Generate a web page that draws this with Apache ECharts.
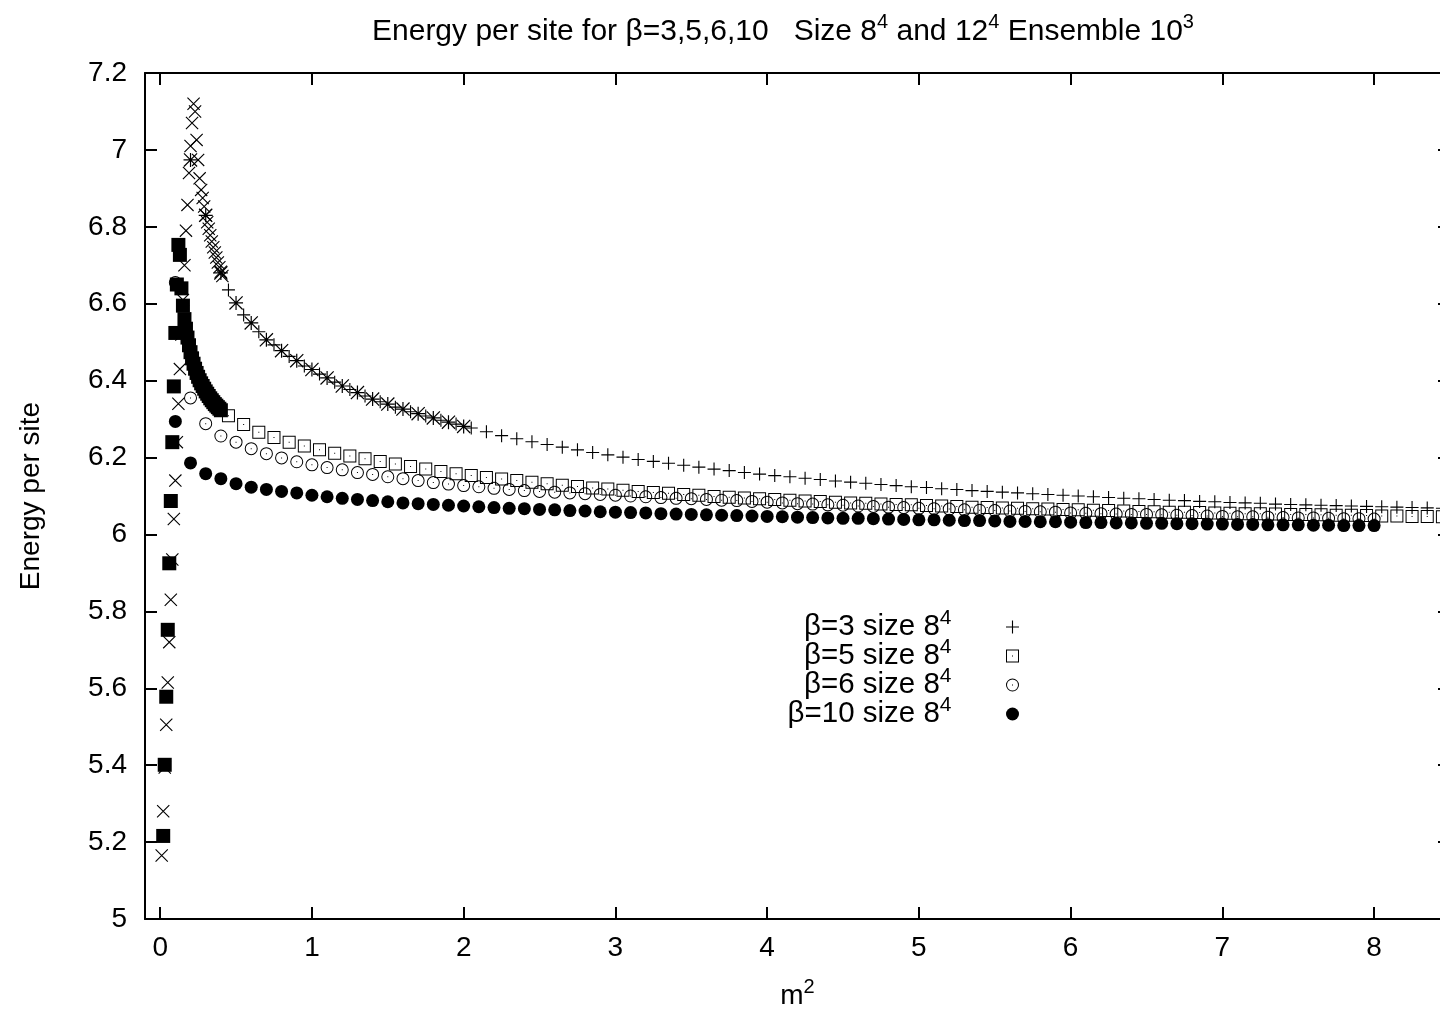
<!DOCTYPE html>
<html>
<head>
<meta charset="utf-8">
<title>Energy per site</title>
<script src="https://cdn.jsdelivr.net/npm/echarts@6/dist/echarts.min.js"></script>
<style>
  html, body { margin: 0; padding: 0; background: #fff; }
  #chart { width: 1440px; height: 1011px; }
</style>
</head>
<body>
<div id="chart"></div>
<script>
// ---- Data: energy per site versus m^2 ----

// m^2 sampling for the beta=3 and beta=5 runs on the 8^4 lattice
const m2Offset = [0.45,0.55,0.65,0.75,0.85,0.95,1.05,1.15,1.25,1.35,1.45,1.55,1.65,1.75,1.85,1.95,2.05,2.15,2.25,2.35,
  2.45,2.55,2.65,2.75,2.85,2.95,3.05,3.15,3.25,3.35,3.45,3.55,3.65,3.75,3.85,3.95,4.05,4.15,4.25,4.35,
  4.45,4.55,4.65,4.75,4.85,4.95,5.05,5.15,5.25,5.35,5.45,5.55,5.65,5.75,5.85,5.95,6.05,6.15,6.25,6.35,
  6.45,6.55,6.65,6.75,6.85,6.95,7.05,7.15,7.25,7.35,7.45,7.55,7.65,7.75,7.85,7.95,8.05,8.15,8.25,8.35,8.45];

// m^2 sampling for the beta=6 and beta=10 runs on the 8^4 lattice
const m2Tenth = [0.1,0.2,0.3,0.4,0.5,0.6,0.7,0.8,0.9,1.0,1.1,1.2,1.3,1.4,1.5,1.6,1.7,1.8,1.9,2.0,
  2.1,2.2,2.3,2.4,2.5,2.6,2.7,2.8,2.9,3.0,3.1,3.2,3.3,3.4,3.5,3.6,3.7,3.8,3.9,4.0,
  4.1,4.2,4.3,4.4,4.5,4.6,4.7,4.8,4.9,5.0,5.1,5.2,5.3,5.4,5.5,5.6,5.7,5.8,5.9,6.0,
  6.1,6.2,6.3,6.4,6.5,6.6,6.7,6.8,6.9,7.0,7.1,7.2,7.3,7.4,7.5,7.6,7.7,7.8,7.9,8.0];

const beta3Size8 = [6.636,6.571,6.527,6.493,6.463,6.438,6.417,6.396,6.377,6.360,
  6.345,6.331,6.319,6.308,6.297,6.287,6.277,6.267,6.257,6.249,
  6.241,6.234,6.227,6.220,6.213,6.207,6.201,6.195,6.190,6.185,
  6.180,6.175,6.170,6.166,6.161,6.157,6.153,6.150,6.146,6.143,
  6.139,6.136,6.133,6.130,6.127,6.124,6.122,6.119,6.117,6.114,
  6.112,6.110,6.108,6.106,6.104,6.102,6.100,6.098,6.096,6.094,
  6.093,6.091,6.089,6.088,6.086,6.085,6.083,6.082,6.081,6.079,
  6.078,6.077,6.076,6.075,6.074,6.073,6.072,6.071,6.070,6.069,
  6.068];

const beta5Size8 = [6.309,6.286,6.266,6.252,6.240,6.230,6.220,6.211,6.204,6.197,
  6.190,6.183,6.177,6.170,6.164,6.158,6.153,6.148,6.144,6.140,
  6.136,6.132,6.128,6.125,6.121,6.118,6.115,6.112,6.109,6.107,
  6.104,6.102,6.099,6.097,6.095,6.093,6.091,6.089,6.087,6.086,
  6.084,6.082,6.081,6.079,6.078,6.077,6.075,6.074,6.073,6.071,
  6.070,6.069,6.068,6.067,6.066,6.065,6.064,6.063,6.062,6.061,
  6.060,6.059,6.058,6.058,6.057,6.056,6.055,6.054,6.054,6.053,
  6.052,6.052,6.051,6.050,6.050,6.049,6.048,6.048,6.047,6.047,
  6.046];

const beta6Size8 = [6.655,6.355,6.288,6.256,6.240,6.223,6.210,6.199,6.189,6.181,
  6.174,6.168,6.161,6.156,6.150,6.145,6.140,6.135,6.131,6.127,
  6.124,6.120,6.117,6.114,6.112,6.110,6.108,6.106,6.104,6.102,
  6.100,6.098,6.096,6.094,6.093,6.091,6.089,6.088,6.086,6.084,
  6.082,6.080,6.079,6.077,6.076,6.074,6.073,6.071,6.070,6.068,
  6.067,6.066,6.064,6.063,6.062,6.061,6.060,6.059,6.058,6.056,
  6.055,6.054,6.053,6.052,6.052,6.051,6.050,6.049,6.048,6.047,
  6.046,6.046,6.045,6.044,6.043,6.043,6.042,6.041,6.041,6.040];

const beta10Size8 = [6.294,6.186,6.158,6.145,6.132,6.123,6.117,6.112,6.108,6.102,
  6.098,6.094,6.091,6.088,6.085,6.082,6.080,6.078,6.076,6.074,
  6.072,6.070,6.068,6.067,6.065,6.064,6.062,6.061,6.059,6.058,
  6.057,6.056,6.054,6.053,6.052,6.051,6.050,6.049,6.048,6.047,
  6.046,6.045,6.044,6.043,6.042,6.042,6.041,6.040,6.039,6.038,
  6.038,6.037,6.036,6.036,6.035,6.034,6.034,6.033,6.033,6.032,
  6.031,6.031,6.030,6.030,6.029,6.029,6.028,6.028,6.027,6.027,
  6.026,6.026,6.025,6.025,6.025,6.024,6.024,6.023,6.023,6.023];

// 12^4 lattice, beta=3, fine scan near the origin
const m2Fine3 = [0.01,0.02,0.03,0.04,0.05,0.06,0.07,0.08,0.09,0.10,0.11,0.12,0.13,0.14,0.15,0.16,0.17,0.18,0.19,0.20,
  0.21,0.22,0.23,0.24,0.25,0.26,0.27,0.28,0.29,0.30,0.31,0.32,0.33,0.34,0.35,0.36,0.37,0.38,0.39,0.40,0.41];
const beta3Size12Fine = [5.165,5.280,5.394,5.505,5.615,5.720,5.830,5.935,6.040,6.140,
  6.240,6.340,6.430,6.520,6.610,6.700,6.790,6.857,6.940,7.010,
  7.070,7.120,7.100,7.026,6.974,6.926,6.896,6.875,6.853,6.830,
  6.812,6.795,6.778,6.762,6.747,6.733,6.720,6.707,6.695,6.683,6.672];

// 12^4 lattice, beta=3, coarse scan
const m2Coarse3 = [0.2,0.3,0.4,0.5,0.6,0.7,0.8,0.9,1.0,1.1,1.2,1.3,1.4,1.5,1.6,1.7,1.8,1.9,2.0];
const beta3Size12 = [6.974,6.830,6.680,6.602,6.550,6.506,6.478,6.452,6.429,6.407,
  6.386,6.369,6.352,6.339,6.326,6.314,6.303,6.292,6.281];

// 12^4 lattice, beta=10, fine scan near the origin
const m2Fine10 = [0.02,0.03,0.04,0.05,0.06,0.07,0.08,0.09,0.10,0.11,0.12,0.13,0.14,0.15,0.16,0.17,0.18,0.19,0.20,
  0.21,0.22,0.23,0.24,0.25,0.26,0.27,0.28,0.29,0.30,0.31,0.32,0.33,0.34,0.35,0.36,0.37,0.38,0.39,0.40];
const beta10Size12 = [5.216,5.401,5.578,5.752,5.925,6.087,6.240,6.385,6.524,6.650,
  6.753,6.727,6.640,6.595,6.560,6.535,6.512,6.492,6.474,6.458,
  6.444,6.431,6.420,6.410,6.401,6.393,6.386,6.379,6.372,6.366,
  6.360,6.354,6.349,6.344,6.339,6.335,6.331,6.327,6.323];

// axis ticks
const xTicks = [0, 1, 2, 3, 4, 5, 6, 7, 8];

// ---- Styling ----
const FONT = '"Liberation Sans", Arial, Helvetica, sans-serif';
const INK = '#000';

// point glyphs (filled outlines so they scale cleanly)
const PLUS  = 'path://M6.4,0H7.6V14H6.4Z M0,6.4H14V7.6H0Z';
const CROSS = 'path://M0,0.85L0.85,0L14,13.15L13.15,14Z M13.15,0L14,0.85L0.85,14L0,13.15Z';
const STAR  = 'path://M6.4,0H7.6V14H6.4Z M0,6.4H14V7.6H0Z M0,0.85L0.85,0L14,13.15L13.15,14Z M13.15,0L14,0.85L0.85,14L0,13.15Z';
const BOX   = 'path://M0,0H13V13H0Z M1,1V12H12V1Z M6,6H7V7H6Z';
const RING  = 'path://M0,6.5A6.5,6.5,0,1,1,13,6.5A6.5,6.5,0,1,1,0,6.5Z M1,6.5A5.5,5.5,0,1,0,12,6.5A5.5,5.5,0,1,0,1,6.5Z M6,6H7V7H6Z';

const pairs = (xs, ys) => xs.map((x, i) => [x, ys[i]]);

const supStyle = { fontFamily: FONT, fontSize: 20, color: INK, verticalAlign: 'top' };
const legendSup = { fontFamily: FONT, fontSize: 21, color: INK, verticalAlign: 'top' };

const legendNames = {
  'β=3 size 8⁴':  'β=3 size 8{sup|4}',
  'β=5 size 8⁴':  'β=5 size 8{sup|4}',
  'β=6 size 8⁴':  'β=6 size 8{sup|4}',
  'β=10 size 8⁴': 'β=10 size 8{sup|4}'
};

function pointSeries(name, symbol, size, data) {
  return {
    name: name,
    type: 'scatter',
    symbol: symbol,
    symbolSize: size,
    data: data,
    itemStyle: { color: INK, opacity: 1 },
    emphasis: { disabled: true },
    animation: false
  };
}

const chart = echarts.init(document.getElementById('chart'), null, { renderer: 'canvas' });

const axisLineStyle = { color: INK, width: 2 };

chart.setOption({
  backgroundColor: '#fff',
  animation: false,
  title: {
    text: 'Energy per site for β=3,5,6,10   Size 8{sup|4} and 12{sup|4} Ensemble 10{sup|3}',
    left: 372,
    top: 12,
    padding: 0,
    textStyle: {
      fontFamily: FONT, fontSize: 30, fontWeight: 'normal', color: INK, lineHeight: 40,
      rich: { sup: supStyle }
    }
  },
  legend: {
    data: Object.keys(legendNames),
    orient: 'vertical',
    align: 'right',
    right: 421,
    top: 608,
    padding: 0,
    itemWidth: 112,
    itemHeight: 13,
    itemGap: -9,
    selectedMode: false,
    formatter: (n) => legendNames[n],
    textStyle: {
      fontFamily: FONT, fontSize: 29.5, color: INK, lineHeight: 38,
      rich: { sup: legendSup }
    }
  },
  grid: {
    left: 145, top: 73, right: -10, bottom: 92,
    containLabel: false,
    outerBoundsMode: 'none'
  },
  xAxis: [
    {
      type: 'value', min: -0.1, max: 8.5, position: 'bottom',
      axisLine: { show: true, onZero: false, lineStyle: axisLineStyle },
      axisTick: { show: true, inside: true, length: 12, customValues: xTicks, lineStyle: axisLineStyle },
      axisLabel: { show: true, customValues: xTicks, margin: 15, fontFamily: FONT, fontSize: 28, color: INK },
      splitLine: { show: false },
      name: 'm{sup|2}',
      nameLocation: 'middle',
      nameGap: 58,
      nameTextStyle: { fontFamily: FONT, fontSize: 28, color: INK, lineHeight: 38, rich: { sup: supStyle } }
    },
    {
      type: 'value', min: -0.1, max: 8.5, position: 'top',
      axisLine: { show: true, onZero: false, lineStyle: axisLineStyle },
      axisTick: { show: true, inside: true, length: 12, customValues: xTicks, lineStyle: axisLineStyle },
      axisLabel: { show: false },
      splitLine: { show: false }
    }
  ],
  yAxis: [
    {
      type: 'value', min: 5, max: 7.2, interval: 0.2, position: 'left',
      axisLine: { show: true, onZero: false, lineStyle: axisLineStyle },
      axisTick: { show: true, inside: true, length: 12, lineStyle: axisLineStyle },
      axisLabel: { show: true, margin: 18, fontFamily: FONT, fontSize: 28, color: INK },
      splitLine: { show: false },
      name: 'Energy per site',
      nameLocation: 'middle',
      nameRotate: 90,
      nameGap: 100,
      nameTextStyle: { fontFamily: FONT, fontSize: 28, color: INK }
    },
    {
      type: 'value', min: 5, max: 7.2, interval: 0.2, position: 'right',
      axisLine: { show: true, onZero: false, lineStyle: axisLineStyle },
      axisTick: { show: true, inside: true, length: 12, lineStyle: axisLineStyle },
      axisLabel: { show: false },
      splitLine: { show: false }
    }
  ],
  series: [
    pointSeries('β=3 size 8⁴',  PLUS,     13, pairs(m2Offset, beta3Size8)),
    pointSeries('β=5 size 8⁴',  BOX,      13, pairs(m2Offset, beta5Size8)),
    pointSeries('β=6 size 8⁴',  RING,     13, pairs(m2Tenth, beta6Size8)),
    pointSeries('β=10 size 8⁴', 'circle', 13, pairs(m2Tenth, beta10Size8)),
    pointSeries('β=3 size 12⁴ fine', CROSS, 13, pairs(m2Fine3, beta3Size12Fine)),
    pointSeries('β=3 size 12⁴', STAR,     14, pairs(m2Coarse3, beta3Size12)),
    pointSeries('β=10 size 12⁴', 'rect',  14, pairs(m2Fine10, beta10Size12))
  ]
});
</script>
</body>
</html>
